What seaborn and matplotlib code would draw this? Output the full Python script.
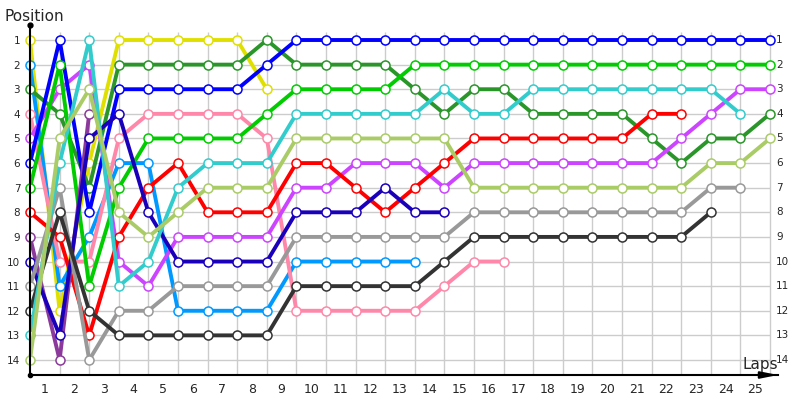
import numpy as np
import pandas as pd
import seaborn as sns
import matplotlib.pyplot as plt

# positions per lap (lap 0 = start), list ends when the car retires
yellow = [1, 12, 6, 1, 1, 1, 1, 1, 3]
lightblue = [2, 11, 9, 6, 6, 12, 12, 12, 12, 10, 10, 10, 10, 10]
dkgreen = [3, 4, 7, 2, 2, 2, 2, 2, 1, 2, 2, 2, 2, 3, 4, 3, 3, 4, 4, 4, 4, 5, 6, 5, 5, 4]
pink = [4, 10, 10, 5, 4, 4, 4, 4, 5, 12, 12, 12, 12, 12, 11, 10, 10]
violet = [5, 3, 2, 10, 11, 9, 9, 9, 9, 7, 7, 6, 6, 6, 7, 6, 6, 6, 6, 6, 6, 6, 5, 4, 3, 3]
blue = [6, 1, 8, 3, 3, 3, 3, 3, 2] + [1] * 17
lime = [7, 2, 11, 7, 5, 5, 5, 5, 4, 3, 3, 3, 3] + [2] * 13
red = [8, 9, 13, 9, 7, 6, 8, 8, 8, 6, 6, 7, 8, 7, 6, 5, 5, 5, 5, 5, 5, 4, 4]
purple = [9, 14, 4]
navy = [10, 13, 5, 4, 8, 10, 10, 10, 10, 8, 8, 8, 7, 8, 8]
gray = [11, 7, 14, 12, 12, 11, 11, 11, 11, 9, 9, 9, 9, 9, 9, 8, 8, 8, 8, 8, 8, 8, 8, 7, 7]
black = [12, 8, 12, 13, 13, 13, 13, 13, 13, 11, 11, 11, 11, 11, 10, 9, 9, 9, 9, 9, 9, 9, 9, 8]
turq = [13, 6, 1, 11, 10, 7, 6, 6, 6, 4, 4, 4, 4, 4, 3, 4, 4, 3, 3, 3, 3, 3, 3, 3, 4]
ygreen = [14, 5, 3, 8, 9, 8, 7, 7, 7, 5, 5, 5, 5, 5, 5, 7, 7, 7, 7, 7, 7, 7, 7, 6, 6, 5]

drivers = {
    'yellow': yellow, 'lightblue': lightblue, 'dkgreen': dkgreen, 'pink': pink,
    'violet': violet, 'blue': blue, 'lime': lime, 'red': red, 'purple': purple,
    'navy': navy, 'gray': gray, 'black': black, 'turq': turq, 'ygreen': ygreen,
}
palette = {
    'yellow': '#e0e000', 'lightblue': '#0099ff', 'dkgreen': '#2a962a', 'pink': '#ff88aa',
    'violet': '#cc44ff', 'blue': '#0000ff', 'lime': '#00cc00', 'red': '#ff0000',
    'purple': '#8b3a9b', 'navy': '#1a00bb', 'gray': '#999999', 'black': '#333333',
    'turq': '#33cccc', 'ygreen': '#aacc66',
}

rows = []
for name, pos in drivers.items():
    for lap, p in enumerate(pos):
        rows.append((lap, p, name))
df = pd.DataFrame(rows, columns=['lap', 'pos', 'driver'])

sns.set_style('white')
plt.rcParams['font.family'] = ['DejaVu Sans']

fig = plt.figure(figsize=(8, 4), dpi=100)
px_lap = 29.6
ax = fig.add_axes([30 / 800, 25 / 400, 748 / 800, 350 / 400])
ax.set_xlim(0, 748 / px_lap)
ax.set_ylim(14.61, 0.39)

# grid
ax.hlines(range(1, 15), 0, 25, color='#cccccc', lw=1, zorder=0)
ax.vlines(range(1, 26), 0.66, 14.61, color='#cccccc', lw=1, zorder=0)

sns.lineplot(data=df, x='lap', y='pos', hue='driver', hue_order=list(drivers),
             palette=palette, marker='o', markersize=6.5, markerfacecolor='white',
             markeredgewidth=1.1, linewidth=2.8, legend=False, estimator=None,
             sort=False, ax=ax)
for line in ax.get_lines():
    line.set_markeredgecolor(line.get_color())
    line.set_clip_on(False)

for s in ['top', 'right']:
    ax.spines[s].set_visible(False)
for s in ['left', 'bottom']:
    ax.spines[s].set_color('black')
    ax.spines[s].set_linewidth(1.5)
ax.plot(0, 1, 'o', color='black', ms=3.5, transform=ax.transAxes, clip_on=False)
ax.plot(0, 0, 'o', color='black', ms=3, transform=ax.transAxes, clip_on=False)
ax.annotate('', xy=(1.0, 0), xytext=(0.975, 0), xycoords='axes fraction',
            arrowprops=dict(arrowstyle='-|>,head_length=1.0,head_width=0.2',
                            color='black', lw=1.5, shrinkA=0, shrinkB=0))

ax.set_xticks([k - 0.5 for k in range(1, 26)])
ax.set_xticklabels([str(k) for k in range(1, 26)], fontsize=9)
ax.set_yticks(range(1, 15))
ax.set_yticklabels([str(k) for k in range(1, 15)], fontsize=7.5)
ax.tick_params(axis='x', length=0, pad=6)
ax.tick_params(axis='y', length=0, pad=7)
ax.set_xlabel('')
ax.set_ylabel('')
for k in range(1, 15):
    ax.text(25 + 6 / px_lap, k, str(k), fontsize=7.5, va='center', ha='left')

fig.text(4 / 800, 1 - 21 / 400, 'Position', fontsize=11, va='baseline', ha='left')
fig.text(742 / 800, 1 - 369 / 400, 'Laps', fontsize=11, va='baseline', ha='left')

fig.savefig('out.png', dpi=100)
